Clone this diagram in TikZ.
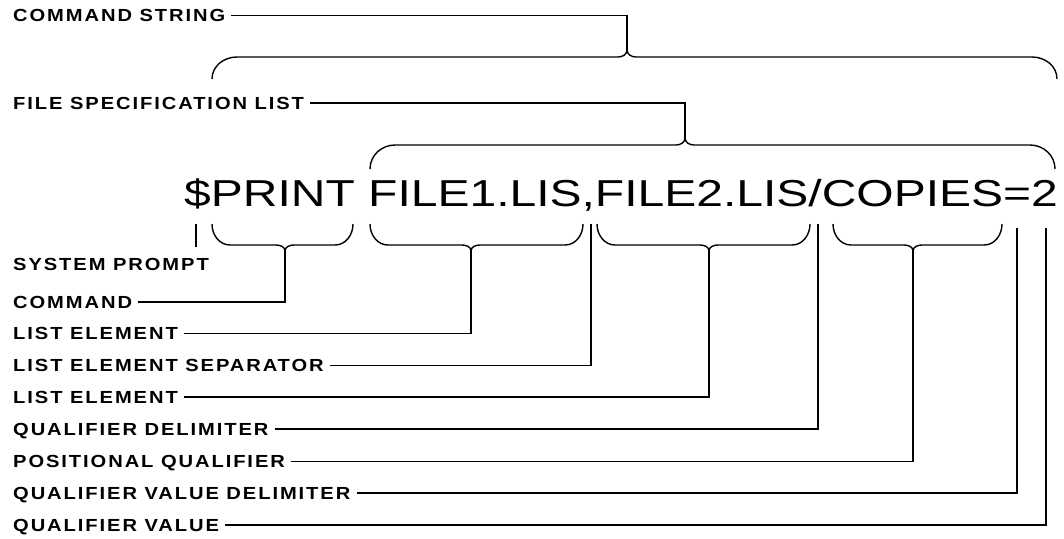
\documentclass[tikz,border=0pt]{standalone}
\usepackage{fontspec}
\newfontfamily\cmdfont[FakeStretch=1.28]{Liberation Sans}
\newfontfamily\tagfont[FakeStretch=1.15,LetterSpace=11]{Liberation Sans}

% brace under a part of the command line, tip pointing down
\newcommand{\lowbrace}[4]{%
    \coordinate (#1) at (#4,-251);
    \draw[bracepath] (#2,-224) to[out=-90,in=180] (#2+18,-245)
        -- (#4-9,-245) to[out=0,in=90] (#1)
        to[out=90,in=180] (#4+9,-245) -- (#3-18,-245)
        to[out=0,in=-90] (#3,-224);}

% brace over a group, tip pointing up
\newcommand{\highbrace}[6]{%
    \coordinate (#1) at (#4,#6+7);
    \draw[bracepath] (#2,#5) to[out=90,in=180] (#2+25,#6)
        -- (#4-9,#6) to[out=0,in=-90] (#1)
        to[out=-90,in=180] (#4+9,#6) -- (#3-25,#6)
        to[out=0,in=90] (#3,#5);}

\begin{document}
\begin{tikzpicture}[
    x=1pt, y=1pt,
    tag/.style={font=\tagfont\bfseries\fontsize{17.5}{19}\selectfont,
        anchor=west, inner sep=0pt, text height=12.5pt, text depth=0pt},
    cmdtext/.style={font=\cmdfont\fontsize{37.5}{40}\selectfont,
        inner sep=0pt, anchor=base west},
    conn/.style={line width=1.4pt},
    bracepath/.style={line width=1.4pt, line join=round}
]
    \useasboundingbox (0,0) rectangle (1064,-538);

    % Command line
    \node[cmdtext] (cmdline) at (184,-206) {\$PRINT FILE1.LIS,FILE2.LIS/COPIES=2};

    % Braces over the groups
    \highbrace{tip string}{212}{1057}{627}{-79}{-57}
    \highbrace{tip files}{370}{1055}{685}{-169}{-145}

    % Braces under the parts
    \lowbrace{tip print}{212}{353}{285}
    \lowbrace{tip file one}{370}{583}{471}
    \lowbrace{tip file two}{597}{810}{709}
    \lowbrace{tip copies}{833}{1002}{913}

    % Single characters
    \coordinate (prompt top) at (196,-224);
    \coordinate (prompt end) at (196,-247);
    \coordinate (comma top) at (591,-224);
    \coordinate (slash top) at (818,-224);
    \coordinate (equals top) at (1017,-228);
    \coordinate (value top) at (1046,-228);

    % Labels
    \node[tag] (cmdstr) at (13,-15.5) {COMMAND STRING};
    \node[tag] (filespec) at (13,-103) {FILE SPECIFICATION LIST};
    \node[tag] (sysprompt) at (13,-264) {SYSTEM PROMPT};
    \node[tag] (command) at (13,-302) {COMMAND};
    \node[tag] (elemone) at (13,-333.5) {LIST ELEMENT};
    \node[tag] (separator) at (13,-365.5) {LIST ELEMENT SEPARATOR};
    \node[tag] (elemtwo) at (13,-397) {LIST ELEMENT};
    \node[tag] (qualdelim) at (13,-429) {QUALIFIER DELIMITER};
    \node[tag] (posqual) at (13,-461.5) {POSITIONAL QUALIFIER};
    \node[tag] (valdelim) at (13,-493) {QUALIFIER VALUE DELIMITER};
    \node[tag] (qualvalue) at (13,-525) {QUALIFIER VALUE};

    % Leaders
    \draw[conn] ([xshift=6pt]cmdstr.east) -| (tip string);
    \draw[conn] ([xshift=6pt]filespec.east) -| (tip files);
    \draw[conn] (prompt top) -- (prompt end);
    \draw[conn] ([xshift=6pt]command.east) -| (tip print);
    \draw[conn] ([xshift=6pt]elemone.east) -| (tip file one);
    \draw[conn] ([xshift=6pt]separator.east) -| (comma top);
    \draw[conn] ([xshift=6pt]elemtwo.east) -| (tip file two);
    \draw[conn] ([xshift=6pt]qualdelim.east) -| (slash top);
    \draw[conn] ([xshift=6pt]posqual.east) -| (tip copies);
    \draw[conn] ([xshift=6pt]valdelim.east) -| (equals top);
    \draw[conn] ([xshift=6pt]qualvalue.east) -| (value top);
\end{tikzpicture}
\end{document}
